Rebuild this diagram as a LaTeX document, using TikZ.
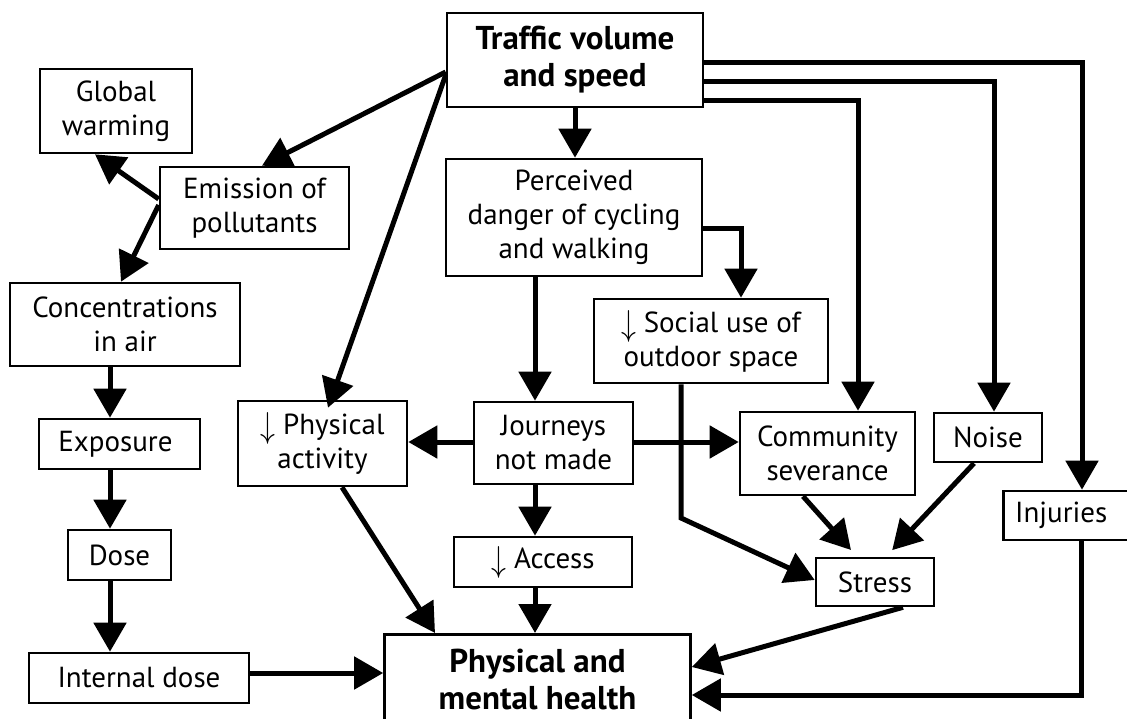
\documentclass[tikz,border=0pt]{standalone}
\usepackage{fontspec}
\setmainfont{PT Sans}
\usetikzlibrary{arrows.meta,calc}
\newcommand\myda{\raisebox{-3pt}{\scalebox{1.2}[1.45]{$\downarrow$}}}
\begin{document}
\begin{tikzpicture}[x=1pt,y=-1pt,
  box/.style={draw,line width=2.6pt,inner sep=0pt,align=center,font=\fontsize{29}{34}\selectfont},
  bbox/.style={box,font=\fontsize{33}{37}\selectfont\bfseries},
  conn/.style={line width=5pt,-{Triangle[length=29pt,width=32pt]}},
]
\useasboundingbox (0,0) rectangle (1127,719);
% nodes
\node[bbox,minimum width=256pt,minimum height=94pt] (traffic) at (575,60) {Traffic volume\\and speed};
\node[box,minimum width=152pt,minimum height=84pt] (gw) at (116,111) {Global\\warming};
\node[box,minimum width=189pt,minimum height=82pt] (emis) at (254.5,208) {Emission of\\pollutants};
\node[box,minimum width=230pt,minimum height=83pt] (conc) at (125,324.5) {Concentrations\\in air};
\node[box,minimum width=161pt,minimum height=50pt] (expo) at (119.5,444) {Exposure\hspace*{8pt}};
\node[box,minimum width=103pt,minimum height=50pt] (dose) at (119.5,555) {Dose};
\node[box,minimum width=220pt,minimum height=50pt] (idose) at (139,678) {Internal dose};
\node[box,minimum width=169pt,minimum height=85pt] (pa) at (322.5,443.5) {\myda\ Physical\\activity};
\node[bbox,minimum width=306pt,minimum height=90pt,anchor=north] (health) at (537.5,633) {Physical and\\mental health};
\node[box,minimum width=256pt,minimum height=117pt] (perc) at (574,217.5) {Perceived\\danger of cycling\\and walking};
\node[box,minimum width=234pt,minimum height=84pt] (social) at (711,341) {\myda\ Social use of\\outdoor space};
\node[box,minimum width=159pt,minimum height=82pt] (journ) at (553.5,443) {Journeys\\not made};
\node[box,minimum width=175pt,minimum height=83pt] (comm) at (827.5,453.5) {Community\\severance};
\node[box,minimum width=108pt,minimum height=49pt] (noise) at (988,437.5) {Noise};
\node[box,minimum width=130pt,minimum height=49pt,anchor=west] (inj) at (1002,515.5) {Injuries\hspace*{14pt}};
\node[box,minimum width=178pt,minimum height=50pt] (access) at (543,562) {\myda\ Access};
\node[box,minimum width=118pt,minimum height=48pt] (stress) at (875,582) {Stress};
\coordinate (sbend) at (681,518);
% connectors
\draw[conn] (traffic.west |- 0,72) -- (emis.north -| 262,0);
\draw[conn] (traffic.west |- 0,75) -- ([yshift=-8pt]pa.north -| 328,0);
\draw[conn] (emis.west |- 0,199) -- (gw.south -| 95,0);
\draw[conn] (emis.west |- 0,205) -- (conc.north -| 121,0);
\draw[conn] (conc.south -| 110,0) -- (expo.north -| 110,0);
\draw[conn] (expo.south -| 110,0) -- (dose.north -| 110,0);
\draw[conn] (dose.south -| 110,0) -- (idose.north -| 110,0);
\draw[conn] (idose.east |- 0,673) -- (health.west |- 0,673);
\draw[conn] (pa.south -| 342,0) -- (health.north -| 435,0);
\draw[conn] (traffic.south -| 575,0) -- (perc.north -| 575,0);
\draw[conn] (perc.south -| 535,0) -- (journ.north -| 535,0);
\draw[conn] (perc.east |- 0,229) -| (social.north -| 741,0);
\draw[conn] (traffic.east |- 0,101) -| (comm.north -| 858,0);
\draw[conn] (traffic.east |- 0,82) -| (noise.north -| 994,0);
\draw[conn] (traffic.east |- 0,63) -| (inj.north -| 1082,0);
\draw[conn] (journ.west |- 0,442) -- (pa.east |- 0,442);
\draw[conn] (journ.east |- 0,442) -- (comm.west |- 0,442);
\draw[conn] (journ.south -| 535,0) -- (access.north -| 535,0);
\draw[conn] (access.south -| 535,0) -- (health.north -| 535,0);
\draw[conn] (social.south -| 681,0) -- (sbend) -- (stress.west |- 0,580);
\draw[conn,shorten >=9pt] (comm.south -| 803,0) -- (stress.north -| 857,0);
\draw[conn,shorten >=9pt] (noise.south -| 974,0) -- (stress.north -| 886,0);
\draw[conn] (stress.south -| 903,0) -- (health.east |- 0,667);
\draw[conn] (inj.south -| 1081,0) |- (health.east |- 0,695);
\end{tikzpicture}
\end{document}
